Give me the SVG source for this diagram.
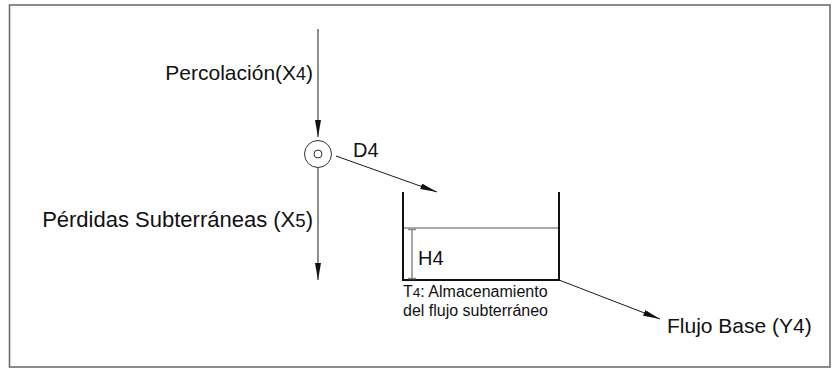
<svg xmlns="http://www.w3.org/2000/svg" width="836" height="377" viewBox="0 0 836 377">
<style>
.t{font-family:"Liberation Sans",Arial,sans-serif;fill:#111}
.ln{stroke:#1a1a1a;stroke-width:1;fill:none}
.wall{stroke:#111;stroke-width:2;fill:none}
.sub{font-size:85%}
</style>
<defs>
<marker id="ah" viewBox="0 0 17 6" refX="17" refY="3" markerWidth="17" markerHeight="6" orient="auto" markerUnits="userSpaceOnUse">
<path d="M0,0 L17,3 L0,6 Z" fill="#111"/>
</marker>
</defs>
<rect width="836" height="377" fill="#fff"/>
<rect x="9.5" y="5" width="820.5" height="362" fill="none" stroke="#666" stroke-width="1.5"/>
<g id="connectors">
<line class="ln" x1="318" y1="29" x2="318" y2="137" marker-end="url(#ah)"/>
<line class="ln" x1="318" y1="168" x2="318" y2="280" marker-end="url(#ah)"/>
<line class="ln" x1="336" y1="156" x2="437" y2="192" marker-end="url(#ah)"/>
<line class="ln" x1="559" y1="280" x2="660" y2="319" marker-end="url(#ah)"/>
</g>
<g id="node-junction">
<circle cx="318" cy="154" r="13.5" fill="none" stroke="#333" stroke-width="1"/>
<circle cx="318" cy="154" r="4" fill="none" stroke="#333" stroke-width="1"/>
</g>
<g id="node-tank">
<polyline class="wall" points="403,192 403,280 559,280 559,192"/>
<line x1="404" y1="228" x2="558" y2="228" stroke="#aaa" stroke-width="2"/>
<g stroke="#888" stroke-width="1.5">
<line x1="412" y1="229" x2="412" y2="279"/>
<line x1="408" y1="229.5" x2="416" y2="229.5"/>
<line x1="408" y1="278.5" x2="416" y2="278.5"/>
</g>
<text class="t" x="418" y="265" font-size="20">H4</text>
<text class="t" x="403" y="297" font-size="16"><tspan>T</tspan><tspan class="sub">4</tspan><tspan>: Almacenamiento</tspan></text>
<text class="t" x="403" y="316" font-size="16">del flujo subterráneo</text>
</g>
<g id="label-percolacion">
<text class="t" x="313" y="80" font-size="21" text-anchor="end">Percolación(X<tspan class="sub">4</tspan>)</text>
</g>
<g id="label-perdidas">
<text class="t" x="313" y="227" font-size="22" text-anchor="end">Pérdidas Subterráneas (X<tspan class="sub">5</tspan>)</text>
</g>
<g id="label-d4">
<text class="t" x="353" y="157" font-size="20">D4</text>
</g>
<g id="label-flujo">
<text class="t" x="667" y="333" font-size="21">Flujo Base (Y4)</text>
</g>
</svg>
